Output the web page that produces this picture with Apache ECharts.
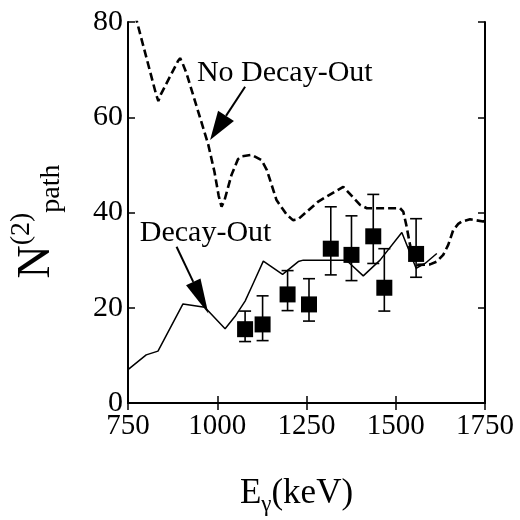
<!DOCTYPE html>
<html>
<head>
<meta charset="utf-8">
<script src="https://cdn.jsdelivr.net/npm/echarts@6/dist/echarts.min.js"></script>
<style>
  html, body { margin: 0; padding: 0; background: #fff; }
  #chart { width: 520px; height: 520px; }
</style>
</head>
<body>
<div id="chart"></div>
<script>
// Gamma-ray energy (keV) and N(2)_path of the calculation without decay-out (dashed)
const noDecayE = [770, 828, 835, 842, 890, 896, 902, 914, 945, 975, 992, 1004, 1012, 1020, 1040, 1058, 1068,
                  1096, 1124, 1139, 1166, 1195, 1212, 1227, 1283, 1353, 1400, 1419, 1512, 1521, 1530, 1540,
                  1550, 1560, 1596, 1615, 1633, 1647, 1661, 1675, 1685, 1708, 1745, 1750];
const noDecayN = [81.5, 65.0, 63.4, 64.8, 71.8, 72.4, 71.5, 69.2, 61.6, 54.2, 48.6, 43.5, 41.2, 42.5, 47.9, 51.2, 51.8,
                  52.1, 51.0, 48.9, 42.6, 39.5, 38.4, 38.6, 42.3, 45.4, 41.6, 40.9, 40.9, 40.2, 37.2, 33.2,
                  30.0, 29.0, 29.1, 29.7, 31.1, 33.2, 36.3, 37.6, 38.1, 38.6, 38.1, 38.3];

// Calculation including decay-out (solid)
const decayE = [750, 801, 834, 904, 965, 1022, 1050, 1078, 1100, 1129, 1183, 1227, 1241, 1325, 1353, 1367,
                1409, 1456, 1517, 1557, 1582, 1615];
const decayN = [7.0, 10.1, 10.9, 20.8, 20.1, 15.6, 18.2, 21.4, 25.0, 29.8, 27.0, 29.7, 30.0, 30.0, 30.0, 29.6,
                26.7, 30.0, 35.8, 28.3, 29.3, 31.4];

// Measured values with their error ranges
const expE  = [1078, 1127, 1197, 1257, 1318, 1376, 1437, 1468, 1557];
const expN  = [15.5, 16.5, 22.8, 20.7, 32.4, 31.1, 35.0, 24.2, 31.3];
const expLo = [12.9, 13.1, 19.4, 17.2, 26.9, 25.7, 29.3, 19.3, 26.4];
const expHi = [19.3, 22.5, 27.8, 26.1, 41.2, 39.3, 43.8, 32.4, 38.7];

// Axis ranges and tick spacing
const xRange = [750, 1750], xStep = 250;
const yRange = [0, 80], yStep = 20;

// Curve labels and pointer arrows, placed in data units
const curveLabels = [
  { text: 'No Decay-Out', at: [943, 69.3] },
  { text: 'Decay-Out', at: [783, 35.7] }
];
const pointers = [
  { from: [1078, 66.4], to: [980, 55.2], head: 29, width: 19 },
  { from: [886, 32.8], to: [975, 18.8], head: 35, width: 16 }
];

const FONT = '"Liberation Serif", "DejaVu Serif", serif';
const BLACK = '#000';

const frameLine = { show: true, lineStyle: { color: BLACK, width: 2 } };
const innerTick = { show: true, inside: true, length: 7, lineStyle: { color: BLACK, width: 1.5 } };
const plain = v => String(v);

const chart = echarts.init(document.getElementById('chart'), null, { renderer: 'canvas' });

chart.setOption({
  backgroundColor: '#fff',
  animation: false,
  grid: { left: 128, right: 35, top: 22, bottom: 117, outerBoundsMode: 'none', containLabel: false },
  xAxis: [
    {
      type: 'value', position: 'bottom', min: xRange[0], max: xRange[1], interval: xStep,
      axisLine: frameLine, axisTick: innerTick, splitLine: { show: false },
      axisLabel: { color: BLACK, fontFamily: FONT, fontSize: 29, margin: 9, formatter: plain },
      name: '{e|E}{g|γ}{e|(keV)}',
      nameLocation: 'middle', nameGap: 71,
      nameTextStyle: {
        padding: [0, 20, 0, 0],
        rich: {
          e: { fontFamily: FONT, fontSize: 35, color: BLACK, lineHeight: 40 },
          g: { fontFamily: FONT, fontSize: 23, color: BLACK, lineHeight: 18, verticalAlign: 'top', padding: [19, 0, 0, 0] }
        }
      }
    },
    {
      type: 'value', position: 'top', min: xRange[0], max: xRange[1], interval: xStep,
      axisLine: frameLine, axisTick: innerTick, axisLabel: { show: false }, splitLine: { show: false }
    }
  ],
  yAxis: [
    {
      type: 'value', position: 'left', min: yRange[0], max: yRange[1], interval: yStep,
      axisLine: frameLine, axisTick: innerTick, splitLine: { show: false },
      axisLabel: { color: BLACK, fontFamily: FONT, fontSize: 30, margin: 5, formatter: plain },
      name: '{n|N}{s|(2)}{p|path}',
      nameLocation: 'middle', nameRotate: 90, nameGap: 62,
      nameTextStyle: {
        padding: [0, 18, 0, 0],
        rich: {
          n: { fontFamily: FONT, fontSize: 46, color: BLACK, lineHeight: 58 },
          s: { fontFamily: FONT, fontSize: 28, color: BLACK, lineHeight: 38, verticalAlign: 'top' },
          p: { fontFamily: FONT, fontSize: 28, color: BLACK, lineHeight: 34, verticalAlign: 'bottom' }
        }
      }
    },
    {
      type: 'value', position: 'right', min: yRange[0], max: yRange[1], interval: yStep,
      axisLine: frameLine, axisTick: innerTick, axisLabel: { show: false }, splitLine: { show: false }
    }
  ],
  series: [
    {
      name: 'No Decay-Out', type: 'line', xAxisIndex: 0, yAxisIndex: 0,
      data: noDecayE.map((e, i) => [e, noDecayN[i]]),
      showSymbol: false, clip: true,
      lineStyle: { color: BLACK, width: 2.6, type: [8, 4] }, z: 3
    },
    {
      name: 'Decay-Out', type: 'line', xAxisIndex: 0, yAxisIndex: 0,
      data: decayE.map((e, i) => [e, decayN[i]]),
      showSymbol: false, clip: true,
      lineStyle: { color: BLACK, width: 1.5 }, z: 3
    },
    {
      name: 'error', type: 'custom', xAxisIndex: 0, yAxisIndex: 0,
      data: expE.map((e, i) => [e, expLo[i], expHi[i]]),
      encode: { x: 0, y: [1, 2] },
      renderItem: function (params, api) {
        const lo = api.coord([api.value(0), api.value(1)]);
        const hi = api.coord([api.value(0), api.value(2)]);
        const cap = 6;
        const st = { stroke: BLACK, lineWidth: 1.6 };
        return {
          type: 'group',
          children: [
            { type: 'line', shape: { x1: lo[0], y1: lo[1], x2: hi[0], y2: hi[1] }, style: st },
            { type: 'line', shape: { x1: lo[0] - cap, y1: lo[1], x2: lo[0] + cap, y2: lo[1] }, style: st },
            { type: 'line', shape: { x1: hi[0] - cap, y1: hi[1], x2: hi[0] + cap, y2: hi[1] }, style: st }
          ]
        };
      },
      z: 4
    },
    {
      name: 'Data', type: 'scatter', xAxisIndex: 0, yAxisIndex: 0,
      data: expE.map((e, i) => [e, expN[i]]),
      symbol: 'rect', symbolSize: 16,
      itemStyle: { color: BLACK, opacity: 1 }, z: 5
    },
    {
      name: 'pointers', type: 'custom', xAxisIndex: 0, yAxisIndex: 0,
      data: pointers.map(p => p.to),
      clip: false,
      renderItem: function (params, api) {
        const p = pointers[params.dataIndex];
        const a = api.coord(p.from), b = api.coord(p.to);
        const dx = b[0] - a[0], dy = b[1] - a[1];
        const len = Math.hypot(dx, dy);
        const ux = dx / len, uy = dy / len;
        const bx = b[0] - ux * p.head, by = b[1] - uy * p.head;
        const nx = -uy * p.width / 2, ny = ux * p.width / 2;
        return {
          type: 'group',
          children: [
            { type: 'line', shape: { x1: a[0], y1: a[1], x2: bx, y2: by },
              style: { stroke: BLACK, lineWidth: 2 } },
            { type: 'polygon', shape: { points: [[b[0], b[1]], [bx + nx, by + ny], [bx - nx, by - ny]] },
              style: { fill: BLACK } }
          ]
        };
      },
      z: 6
    },
    {
      name: 'labels', type: 'custom', xAxisIndex: 0, yAxisIndex: 0,
      data: curveLabels.map(l => l.at),
      clip: false,
      renderItem: function (params, api) {
        const l = curveLabels[params.dataIndex];
        const pt = api.coord(l.at);
        return {
          type: 'text', x: pt[0], y: pt[1],
          style: { text: l.text, fontFamily: FONT, fontSize: 30, fill: BLACK, align: 'left', verticalAlign: 'middle' }
        };
      },
      z: 6
    }
  ]
});
</script>
</body>
</html>
